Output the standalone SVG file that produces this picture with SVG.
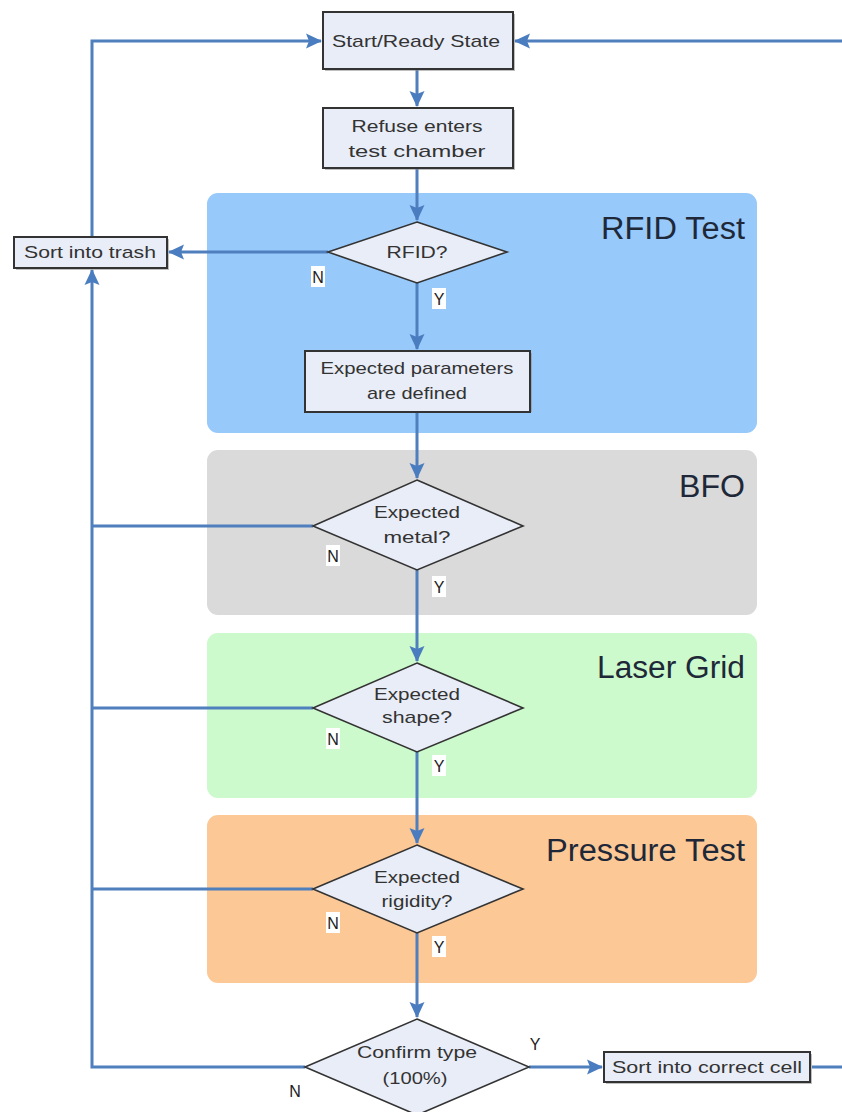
<svg xmlns="http://www.w3.org/2000/svg" width="842" height="1112" viewBox="0 0 842 1112">
<style>
.box{fill:#e9edf7;stroke:#333;stroke-width:2}
.sh{fill:#8a8a8a;opacity:0.55}
.dia{fill:#e9edf7;stroke:#333;stroke-width:1.6}
.t{font-family:"Liberation Sans",Arial,sans-serif;font-size:17px;fill:#333;text-anchor:middle}
.title{font-family:"Liberation Sans",Arial,sans-serif;font-size:31px;fill:#1e2838;text-anchor:end}
.lbl{font-family:"Liberation Sans",Arial,sans-serif;font-size:16px;fill:#222;text-anchor:middle}
.lb{fill:#fff}
.c{fill:none;stroke:#4f7fbd;stroke-width:3}
</style>
<defs>
<marker id="ah" markerUnits="userSpaceOnUse" markerWidth="18" markerHeight="18" refX="15" refY="9" orient="auto">
<path d="M0,1.5 L16,9 L0,16.5 L3,9 Z" fill="#4a7cc0"/>
</marker>
</defs>
<rect width="842" height="1112" fill="#fff"/>
<g id="panels">
<rect x="207" y="193" width="550" height="240" rx="11" fill="#97c9fa"/>
<text class="title" x="745" y="239" textLength="144" lengthAdjust="spacingAndGlyphs">RFID Test</text>
<rect x="207" y="450" width="550" height="165" rx="11" fill="#dadada"/>
<text class="title" x="745" y="497" textLength="66" lengthAdjust="spacingAndGlyphs">BFO</text>
<rect x="207" y="633" width="550" height="165" rx="11" fill="#ccfacc"/>
<text class="title" x="745" y="678" textLength="148" lengthAdjust="spacingAndGlyphs">Laser Grid</text>
<rect x="207" y="815" width="550" height="168" rx="11" fill="#fcc896"/>
<text class="title" x="745" y="861" textLength="199" lengthAdjust="spacingAndGlyphs">Pressure Test</text>
</g>
<g id="connectors">
<path class="c" d="M417,69 V106" marker-end="url(#ah)"/>
<path class="c" d="M417,168 V220" marker-end="url(#ah)"/>
<path class="c" d="M417,283 V349" marker-end="url(#ah)"/>
<path class="c" d="M417,412 V478" marker-end="url(#ah)"/>
<path class="c" d="M417,570 V661" marker-end="url(#ah)"/>
<path class="c" d="M417,752 V843" marker-end="url(#ah)"/>
<path class="c" d="M417,933 V1017" marker-end="url(#ah)"/>
<path class="c" d="M328,252 H169" marker-end="url(#ah)"/>
<path class="c" d="M92,237 V41 H321" marker-end="url(#ah)"/>
<path class="c" d="M313,526 H92"/>
<path class="c" d="M313,708 H92"/>
<path class="c" d="M313,889 H92"/>
<path class="c" d="M305,1067 H92 V270" marker-end="url(#ah)"/>
<path class="c" d="M529,1067 H602" marker-end="url(#ah)"/>
<path class="c" d="M812,1067 H842"/>
<path class="c" d="M842,41 H515" marker-end="url(#ah)"/>
</g>
<g id="start">
<rect class="sh" x="325" y="14" width="190" height="57"/>
<rect class="box" x="323" y="12" width="190" height="57"/>
<text class="t" x="416" y="47" textLength="168" lengthAdjust="spacingAndGlyphs">Start/Ready State</text>
</g>
<g id="refuse">
<rect class="sh" x="325" y="110" width="190" height="60"/>
<rect class="box" x="323" y="108" width="190" height="60"/>
<text class="t" x="417" y="132" textLength="131" lengthAdjust="spacingAndGlyphs">Refuse enters</text>
<text class="t" x="417" y="157" textLength="137" lengthAdjust="spacingAndGlyphs">test chamber</text>
</g>
<g id="trash">
<rect class="sh" x="16" y="239" width="153" height="31"/>
<rect class="box" x="14" y="237" width="153" height="31"/>
<text class="t" x="90" y="258" textLength="132" lengthAdjust="spacingAndGlyphs">Sort into trash</text>
</g>
<g id="rfid">
<polygon class="dia" points="417,222 507,252 417,283 328,252"/>
<text class="t" x="417" y="258" textLength="61" lengthAdjust="spacingAndGlyphs">RFID?</text>
<rect class="lb" x="311" y="266" width="14" height="21"/>
<text class="lbl" x="318" y="283">N</text>
<rect class="lb" x="432" y="288" width="14" height="21"/>
<text class="lbl" x="439" y="305">Y</text>
</g>
<g id="params">
<rect class="sh" x="307" y="353" width="225" height="59"/>
<rect class="box" x="305" y="351" width="225" height="61"/>
<text class="t" x="417" y="374" textLength="193" lengthAdjust="spacingAndGlyphs">Expected parameters</text>
<text class="t" x="417" y="399" textLength="100" lengthAdjust="spacingAndGlyphs">are defined</text>
</g>
<g id="metal">
<polygon class="dia" points="417,480 523,526 417,570 313,526"/>
<text class="t" x="417" y="518" textLength="86" lengthAdjust="spacingAndGlyphs">Expected</text>
<text class="t" x="417" y="543" textLength="67" lengthAdjust="spacingAndGlyphs">metal?</text>
<rect class="lb" x="326" y="545" width="14" height="21"/>
<text class="lbl" x="333" y="562">N</text>
<rect class="lb" x="432" y="576" width="14" height="21"/>
<text class="lbl" x="439" y="593">Y</text>
</g>
<g id="shape">
<polygon class="dia" points="417,663 523,708 417,752 313,708"/>
<text class="t" x="417" y="700" textLength="86" lengthAdjust="spacingAndGlyphs">Expected</text>
<text class="t" x="417" y="723" textLength="70" lengthAdjust="spacingAndGlyphs">shape?</text>
<rect class="lb" x="326" y="728" width="14" height="21"/>
<text class="lbl" x="333" y="745">N</text>
<rect class="lb" x="432" y="755" width="14" height="21"/>
<text class="lbl" x="439" y="772">Y</text>
</g>
<g id="rigidity">
<polygon class="dia" points="417,845 523,889 417,933 313,889"/>
<text class="t" x="417" y="883" textLength="86" lengthAdjust="spacingAndGlyphs">Expected</text>
<text class="t" x="417" y="907" textLength="71" lengthAdjust="spacingAndGlyphs">rigidity?</text>
<rect class="lb" x="326" y="912" width="14" height="21"/>
<text class="lbl" x="333" y="929">N</text>
<rect class="lb" x="432" y="936" width="14" height="21"/>
<text class="lbl" x="439" y="953">Y</text>
</g>
<g id="confirm">
<polygon class="dia" points="417,1019 529,1067 417,1115 305,1067"/>
<text class="t" x="417" y="1058" textLength="120" lengthAdjust="spacingAndGlyphs">Confirm type</text>
<text class="t" x="415" y="1084" textLength="65" lengthAdjust="spacingAndGlyphs">(100%)</text>
<text class="lbl" x="295" y="1097">N</text>
<text class="lbl" x="535" y="1050">Y</text>
</g>
<g id="correct">
<rect class="sh" x="606" y="1054" width="206" height="30"/>
<rect class="box" x="604" y="1052" width="206" height="30"/>
<text class="t" x="707" y="1073" textLength="190" lengthAdjust="spacingAndGlyphs">Sort into correct cell</text>
</g>
</svg>
